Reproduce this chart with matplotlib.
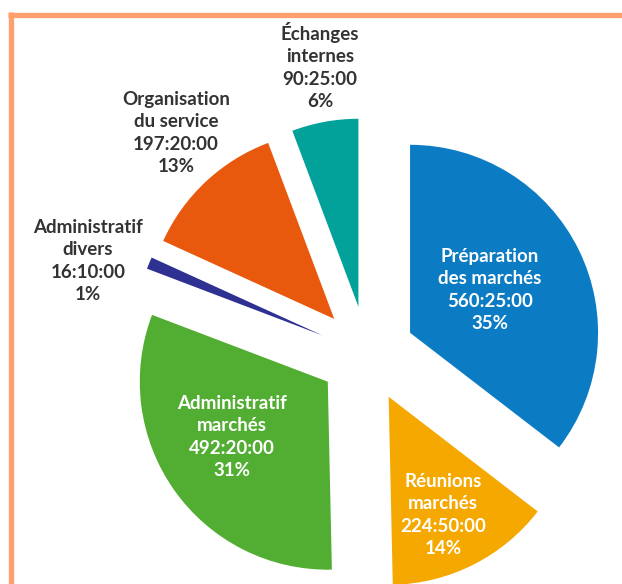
import matplotlib.pyplot as plt

# données du graphique
categories = ["Préparation\ndes marchés", "Réunions\nmarchés", "Administratif\nmarchés",
              "Administratif\ndivers", "Organisation\ndu service", "Échanges\ninternes"]
durees = ["560:25:00", "224:50:00", "492:20:00", "16:10:00", "197:20:00", "90:25:00"]
pourcentages = ["35%", "14%", "31%", "1%", "13%", "6%"]
couleurs = ["#0B7BC3", "#F5A800", "#52AE32", "#2E3192", "#E8590E", "#02A29A"]

# heures décimales à partir des durées hh:mm:ss
heures = []
for d in durees:
    h, m, s = [int(x) for x in d.split(":")]
    heures.append(h + m / 60 + s / 3600)

fig = plt.figure(figsize=(6.22, 5.84), dpi=100)
ax = fig.add_axes([0, 0, 1, 1])

centre = (367, 230)
rayon = 188
# explode est en unités de données (pixels ici)
ax.pie(heures, colors=couleurs, startangle=90, counterclock=False,
       explode=[48] * len(heures), radius=rayon, center=centre,
       wedgeprops=dict(linewidth=0))

ax.set_xlim(0, 622)
ax.set_ylim(0, 584)
ax.set_aspect('equal')
ax.axis('off')

# position des étiquettes (x, y) et couleur du texte
pos = [(490, 294), (443, 69), (232, 147), (88, 323), (176, 451), (320, 518)]
couleur_txt = ["white", "white", "white", "#333333", "#333333", "#333333"]
for i in range(len(categories)):
    txt = categories[i] + "\n" + durees[i] + "\n" + pourcentages[i]
    ax.text(pos[i][0], pos[i][1], txt, ha='center', va='center',
            fontsize=13.5, fontweight='bold', family='Lato',
            color=couleur_txt[i], linespacing=1.4)

# cadre orange
ax.plot([8, 622], [569.5, 569.5], color="#FF9F6B", lw=3.8, clip_on=False,
        solid_capstyle='butt')
ax.plot([10.5, 10.5], [0, 572], color="#FF9F6B", lw=3.8, clip_on=False,
        solid_capstyle='butt')

plt.savefig("out.png", dpi=100)
